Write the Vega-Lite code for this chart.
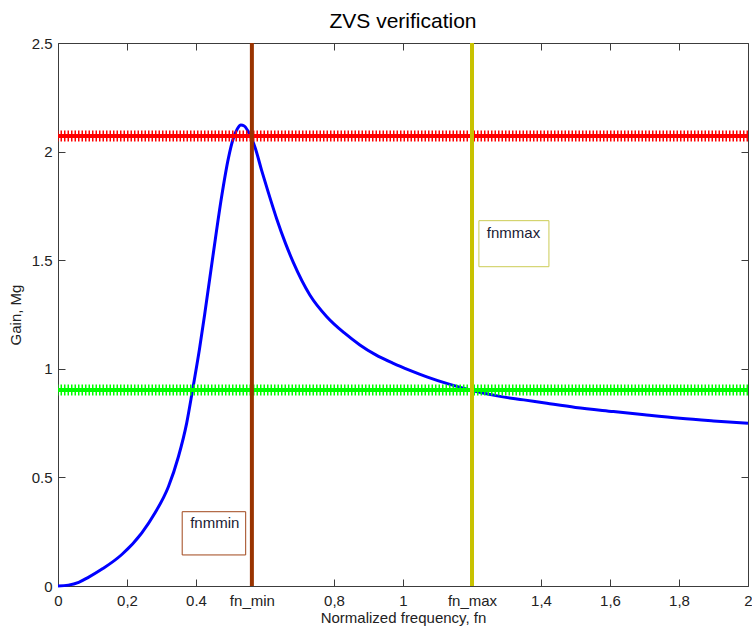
{
  "$schema": "https://vega.github.io/schema/vega-lite/v6.json",
  "width": 690,
  "height": 543,
  "autosize": {"type": "none"},
  "padding": {"left": 58, "top": 43, "right": 4, "bottom": 40},
  "background": "white",
  "title": {"text": "ZVS verification", "fontSize": 21, "font": "Liberation Sans", "fontWeight": "normal", "color": "#000", "offset": 4},
  "config": {
    "view": {"stroke": "#3c3c3c", "strokeWidth": 1},
    "axis": {
      "labelFont": "Liberation Sans", "titleFont": "Liberation Sans",
      "labelFontSize": 15, "titleFontSize": 15, "titleFontWeight": "normal",
      "labelColor": "#222", "titleColor": "#222",
      "labelFlush": false, "labelOverlap": false
    }
  },
  "datasets": {
    "curve": [
      {"fn": 0, "gain": 0}, {"fn": 0.03, "gain": 0.004}, {"fn": 0.06, "gain": 0.017}, {"fn": 0.088, "gain": 0.04},
      {"fn": 0.13, "gain": 0.08}, {"fn": 0.185, "gain": 0.145}, {"fn": 0.243, "gain": 0.245}, {"fn": 0.281, "gain": 0.336},
      {"fn": 0.32, "gain": 0.457}, {"fn": 0.349, "gain": 0.595}, {"fn": 0.373, "gain": 0.75}, {"fn": 0.39, "gain": 0.902},
      {"fn": 0.41, "gain": 1.09}, {"fn": 0.426, "gain": 1.26}, {"fn": 0.45, "gain": 1.53}, {"fn": 0.474, "gain": 1.79},
      {"fn": 0.494, "gain": 1.97}, {"fn": 0.508, "gain": 2.06}, {"fn": 0.52, "gain": 2.105}, {"fn": 0.53, "gain": 2.122},
      {"fn": 0.54, "gain": 2.118}, {"fn": 0.552, "gain": 2.09}, {"fn": 0.571, "gain": 2.02}, {"fn": 0.59, "gain": 1.915},
      {"fn": 0.61, "gain": 1.81}, {"fn": 0.634, "gain": 1.69}, {"fn": 0.66, "gain": 1.575}, {"fn": 0.682, "gain": 1.49},
      {"fn": 0.73, "gain": 1.34}, {"fn": 0.779, "gain": 1.24}, {"fn": 0.83, "gain": 1.165}, {"fn": 0.875, "gain": 1.11},
      {"fn": 0.92, "gain": 1.065}, {"fn": 0.972, "gain": 1.025}, {"fn": 1.02, "gain": 0.993}, {"fn": 1.069, "gain": 0.963},
      {"fn": 1.136, "gain": 0.928}, {"fn": 1.2, "gain": 0.9}, {"fn": 1.281, "gain": 0.873}, {"fn": 1.35, "gain": 0.857},
      {"fn": 1.417, "gain": 0.841}, {"fn": 1.5, "gain": 0.822}, {"fn": 1.61, "gain": 0.803}, {"fn": 1.7, "gain": 0.788},
      {"fn": 1.803, "gain": 0.772}, {"fn": 1.9, "gain": 0.76}, {"fn": 2.0, "gain": 0.749}
    ],
    "levels": [{"level": "Mg_max", "gain": 2.072}, {"level": "Mg_min", "gain": 0.902}],
    "limits": [{"name": "fn_min", "fn": 0.562}, {"name": "fn_max", "fn": 1.2}],
    "boxes": [
      {"name": "fn_min", "label": "fnmmin", "x1": 0.36, "x2": 0.544, "y1": 0.143, "y2": 0.342, "tx": 0.383, "ty": 0.29},
      {"name": "fn_max", "label": "fnmmax", "x1": 1.22, "x2": 1.423, "y1": 1.47, "y2": 1.682, "tx": 1.243, "ty": 1.625}
    ]
  },
  "layer": [
    {
      "data": {"name": "curve"},
      "mark": {"type": "line", "color": "#0000ff", "strokeWidth": 3, "interpolate": "monotone"},
      "encoding": {
        "x": {"field": "fn", "type": "quantitative", "scale": {"domain": [0, 2], "nice": false, "zero": false},
          "axis": {"orient": "bottom", "values": [0, 0.2, 0.4, 0.562, 0.8, 1, 1.2, 1.4, 1.6, 1.8, 2],
            "labelExpr": "abs(datum.value-0.562)<0.001 ? 'fn_min' : abs(datum.value-1.2)<0.001 ? 'fn_max' : abs(datum.value-0.4)<0.001 ? '0.4' : replace(format(datum.value,''), '.', ',')",
            "ticks": false, "domain": false,
            "grid": true, "gridColor": "#3c3c3c", "gridOpacity": 1, "gridWidth": 1, "gridDash": [7, 529],
            "labelPadding": 7, "title": "Normalized frequency, fn", "titlePadding": 2}},
        "y": {"field": "gain", "type": "quantitative", "scale": {"domain": [0, 2.5], "nice": false, "zero": false},
          "axis": {"orient": "left", "values": [0, 0.5, 1, 1.5, 2, 2.5], "format": "~g", "ticks": false, "domain": false,
            "grid": true, "gridColor": "#3c3c3c", "gridOpacity": 1, "gridWidth": 1, "gridDash": [7, 676],
            "labelPadding": 6, "title": "Gain, Mg", "titlePadding": 8}}
      }
    },
    {
      "data": {"name": "levels"},
      "mark": {"type": "rule", "strokeWidth": 11, "strokeDash": [1.5, 2]},
      "encoding": {
        "y": {"field": "gain", "type": "quantitative", "axis": null},
        "color": {"field": "level", "type": "nominal", "scale": {"domain": ["Mg_max", "Mg_min"], "range": ["#ff0000", "#00ff00"]}, "legend": null}
      }
    },
    {
      "data": {"name": "levels"},
      "mark": {"type": "rule", "strokeWidth": 4},
      "encoding": {
        "y": {"field": "gain", "type": "quantitative", "axis": null},
        "color": {"field": "level", "type": "nominal", "scale": {"domain": ["Mg_max", "Mg_min"], "range": ["#ff0000", "#00ff00"]}, "legend": null}
      }
    },
    {
      "data": {"name": "limits"},
      "mark": {"type": "rule", "strokeWidth": 4},
      "encoding": {
        "x": {"field": "fn", "type": "quantitative", "axis": null},
        "stroke": {"field": "name", "type": "nominal", "scale": {"domain": ["fn_min", "fn_max"], "range": ["#993300", "#c8c200"]}, "legend": null}
      }
    },
    {
      "data": {"name": "boxes"},
      "mark": {"type": "rect", "fill": "white", "strokeWidth": 1},
      "encoding": {
        "x": {"field": "x1", "type": "quantitative", "axis": null},
        "x2": {"field": "x2"},
        "y": {"field": "y1", "type": "quantitative", "axis": null},
        "y2": {"field": "y2"},
        "stroke": {"field": "name", "type": "nominal", "scale": {"domain": ["fn_min", "fn_max"], "range": ["#a0461a", "#cccc55"]}, "legend": null}
      }
    },
    {
      "data": {"name": "boxes"},
      "mark": {"type": "text", "align": "left", "baseline": "middle", "font": "Liberation Sans", "fontSize": 15, "fill": "#1a1a33"},
      "encoding": {
        "x": {"field": "tx", "type": "quantitative", "axis": null},
        "y": {"field": "ty", "type": "quantitative", "axis": null},
        "text": {"field": "label"}
      }
    }
  ],
  "resolve": {
    "axis": {"x": "independent", "y": "independent"},
    "scale": {"color": "independent", "stroke": "independent"}
  }
}
